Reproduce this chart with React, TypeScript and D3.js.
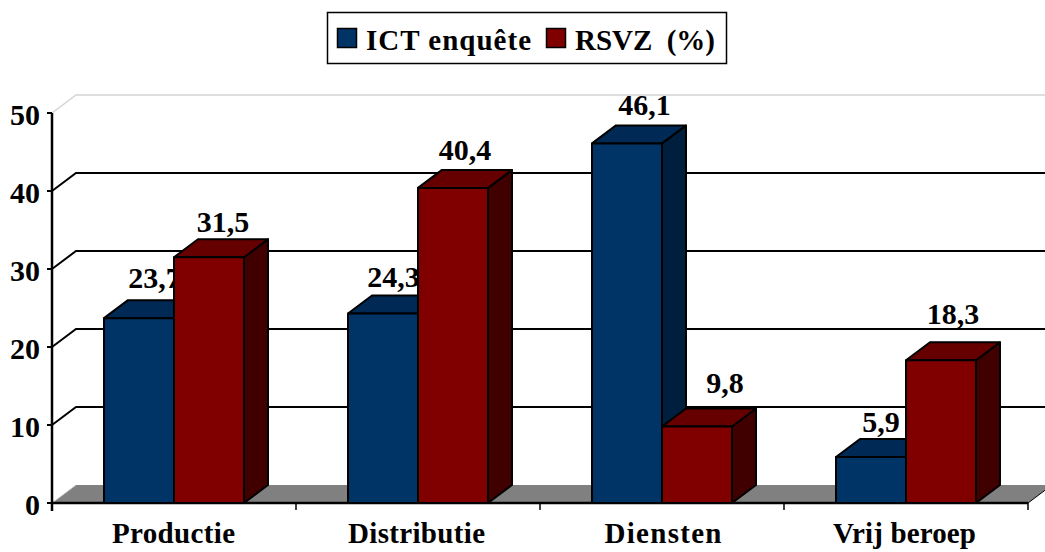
import React from "react";
import * as d3 from "d3";

const categories = ["Productie", "Distributie", "Diensten", "Vrij beroep"];
const seriesNames = ["ICT enquête", "RSVZ  (%)"];
const ictValues = [23.7, 24.3, 46.1, 5.9];
const rsvzValues = [31.5, 40.4, 9.8, 18.3];
const yTicks = [0, 10, 20, 30, 40, 50];
const palette = [
  { front: "#003366", top: "#002a55", side: "#001f3f" },
  { front: "#800000", top: "#660000", side: "#400000" },
];

const W = 1045, H = 552;
const X0 = 52, X1 = 1028, Y0 = 503, Y50 = 113;
const DX = 24, DY = -18;
const FONT = "'Liberation Serif', 'Times New Roman', serif";

// layout nudges: hand-placed labels of the original chart
const labelNudge = [
  [[15.5, -30], [14, -25]],
  [[10.5, -26.5], [12, -28]],
  [[17.5, -28], [28, -34]],
  [[10, -25], [12, -36]],
];
const categoryWidths = [123, 137, 117, 143];
const categoryNudge = [-0.5, -1.5, 1, -1.5];

const y = d3.scaleLinear().domain([0, 50]).range([Y0, Y50]);
const x = d3.scaleBand<string>().domain(categories).range([X0, X1]);
const inner = d3.scaleBand<string>().domain(seriesNames).range([52, 192]);
const poly = d3.line();

export default function App() {
  const groups = categories.map((c, i) => [ictValues[i], rsvzValues[i]]);
  return (
    <svg width={W} height={H} viewBox={`0 0 ${W} ${H}`} style={{ position: "absolute", left: 0, top: 0, background: "#fff" }} fontFamily={FONT} fontWeight="bold" fill="#000">
      {/* legend */}
      <rect x={327.5} y={12.5} width={399} height={51} fill="#fff" stroke="#000" strokeWidth={1.5} />
      <rect x={337.5} y={28.5} width={19} height={19} fill={palette[0].front} stroke="#000" strokeWidth={1.5} />
      <text x={366} y={49.5} fontSize={29} textLength={165} lengthAdjust="spacing">{seriesNames[0]}</text>
      <rect x={546.5} y={28.5} width={19} height={19} fill={palette[1].front} stroke="#000" strokeWidth={1.5} />
      <text x={575} y={49.5} fontSize={29} textLength={140} lengthAdjust="spacing" xmlSpace="preserve">{seriesNames[1]}</text>

      {/* walls and grid */}
      <path d={poly([[X0, Y0], [X0 + DX, Y0 + DY], [X1 + DX, Y0 + DY], [X1, Y0]])!} fill="#808080" />
      <path d={poly([[X0, Y0], [X0 + DX, Y0 + DY]])!} stroke="#ccc" strokeWidth={1} fill="none" />
      {yTicks.slice(1).map((t) => {
        const c = t === 50 ? "#d4d4d4" : "#000";
        const sw = t === 50 ? 1.5 : 2;
        return (
          <path key={t} d={poly([[X0, y(t)], [X0 + DX, y(t) + DY], [X1 + DX, y(t) + DY]])!} fill="none" stroke={c} strokeWidth={sw} />
        );
      })}

      {/* axes */}
      <line x1={X0} x2={X0} y1={Y50} y2={Y0 + 8} stroke="#000" strokeWidth={2.5} />
      <line x1={X0} x2={X1} y1={Y0} y2={Y0} stroke="#000" strokeWidth={2.5} />
      {yTicks.map((t) => (
        <g key={t}>
          <line x1={X0 - 5} x2={X0} y1={y(t)} y2={y(t)} stroke="#000" strokeWidth={2} />
          <text x={X0 - 12} y={y(t) + 11.5} fontSize={30} textAnchor="end">{t}</text>
        </g>
      ))}
      {categories.map((c) => (
        <line key={c} x1={x(c)! + x.bandwidth()} x2={x(c)! + x.bandwidth()} y1={Y0} y2={Y0 + 7} stroke="#000" strokeWidth={1.5} />
      ))}
      <path d={poly([[X1, Y0], [X1 + DX, Y0 + DY]])!} stroke="#000" strokeWidth={1} fill="none" />
      {categories.map((c, i) => (
        <text key={c} x={x(c)! + x.bandwidth() / 2 + categoryNudge[i]} y={543} fontSize={29} textAnchor="middle" textLength={categoryWidths[i]} lengthAdjust="spacing">{c}</text>
      ))}

      {/* bars, each followed by its label so the next bar can cover it */}
      {categories.map((c, i) =>
        seriesNames.map((s, j) => {
          const v = groups[i][j];
          const l = x(c)! + inner(s)!;
          const r = l + inner.bandwidth();
          const t = y(v);
          const st = { stroke: "#000", strokeWidth: 2, strokeLinejoin: "round" as const };
          const [nx, ny] = labelNudge[i][j];
          return (
            <g key={s}>
              <path d={poly([[r, Y0], [r + DX, Y0 + DY], [r + DX, t + DY], [r, t]])! + "Z"} fill={palette[j].side} {...st} />
              <path d={poly([[l, t], [l + DX, t + DY], [r + DX, t + DY], [r, t]])! + "Z"} fill={palette[j].top} {...st} />
              <rect x={l} y={t} width={r - l} height={Y0 - t} fill={palette[j].front} {...st} />
              <text x={(l + r) / 2 + nx} y={t + ny} fontSize={30} textAnchor="middle">
                {String(v).replace(".", ",")}
              </text>
            </g>
          );
        })
      )}
    </svg>
  );
}
